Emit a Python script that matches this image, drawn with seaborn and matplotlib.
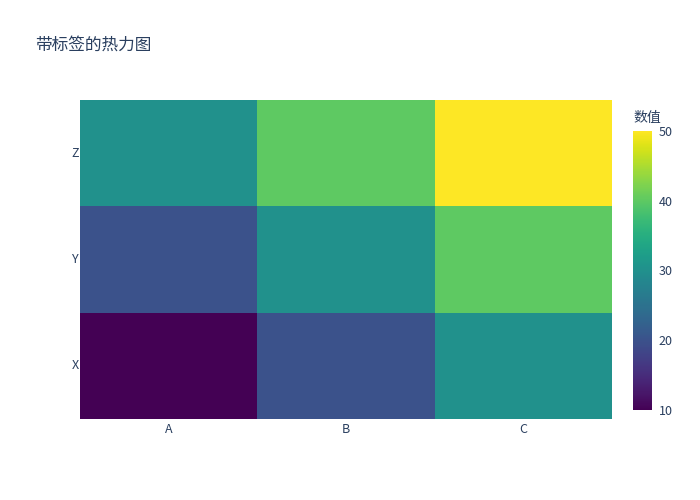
import pandas as pd
import seaborn as sns
import matplotlib.pyplot as plt

# data
cols = ["A", "B", "C"]
rows = ["X", "Y", "Z"]
vals_x = [10, 20, 30]
vals_y = [20, 30, 40]
vals_z = [30, 40, 50]

sns.set_style("white")
plt.rcParams['font.family'] = ['Noto Sans CJK SC', 'DejaVu Sans']
txt = "#2a3f5f"

df = pd.DataFrame([vals_x, vals_y, vals_z], index=rows, columns=cols)

fig = plt.figure(figsize=(7, 5), dpi=100)
ax = fig.add_axes([80/700, 1 - 419/500, 532/700, 319/500])
cax = fig.add_axes([633/700, 1 - 410/500, 19/700, 279/500])

sns.heatmap(df, cmap="viridis", vmin=10, vmax=50, ax=ax, cbar_ax=cax, linewidths=0)
ax.invert_yaxis()

ax.tick_params(axis="y", length=0, labelsize=9, labelcolor=txt, pad=1)
ax.tick_params(axis="x", length=0, labelsize=9, labelcolor=txt, pad=3)
ax.set_yticklabels(rows, rotation=0)
ax.set_xticklabels(cols, rotation=0)
ax.set_xlabel("")
ax.set_ylabel("")

cbar = ax.collections[0].colorbar
cbar.set_ticks([10, 20, 30, 40, 50])
cbar.outline.set_visible(False)
cax.tick_params(length=0, labelsize=9, labelcolor=txt, pad=5)
for s in cax.spines.values():
    s.set_visible(False)

fig.text(633/700, 1 - 118/500, "数值", fontsize=10, color=txt, va="center", ha="left")
fig.text(35/700, 1 - 45/500, "带标签的热力图", fontsize=12, color=txt, va="center", ha="left")

fig.savefig("out.png", dpi=100)
